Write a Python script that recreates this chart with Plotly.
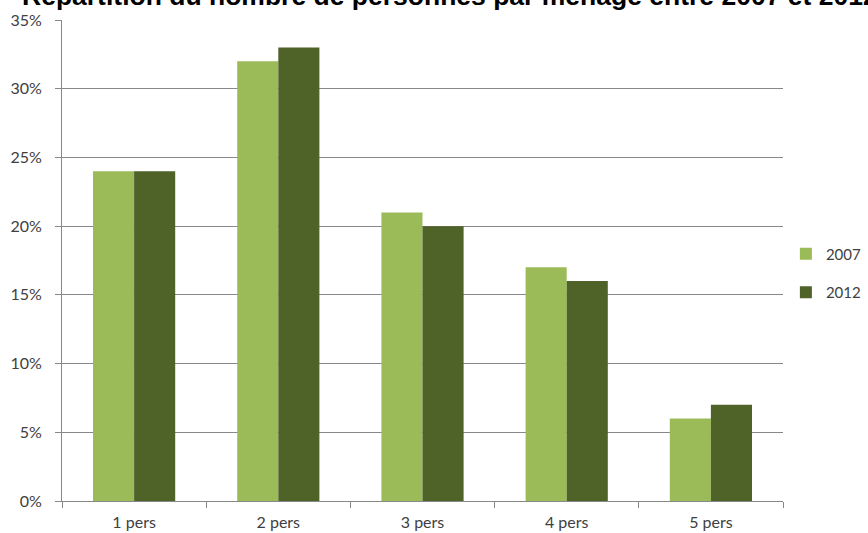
import plotly.graph_objects as go

# Household size distribution, 2007 vs 2012
categories = ["1 pers", "2 pers", "3 pers", "4 pers", "5 pers"]
share_2007 = [0.24, 0.32, 0.21, 0.17, 0.06]
share_2012 = [0.24, 0.33, 0.20, 0.16, 0.07]
y_ticks = [0, 0.05, 0.10, 0.15, 0.20, 0.25, 0.30, 0.35]
y_tick_labels = ["0%", "5%", "10%", "15%", "20%", "25%", "30%", "35%"]

GRID = "#888888"
TEXT = "#404040"
FONT = "Lato"

fig = go.Figure()
fig.add_trace(go.Bar(
    x=categories, y=share_2007, name="2007",
    marker=dict(color="#9BBB59", line=dict(width=0)),
    legendgroup="a",
))
fig.add_trace(go.Bar(
    x=categories, y=share_2012, name="2012",
    marker=dict(color="#4F6228", line=dict(width=0)),
    legendgroup="b",
))

fig.update_layout(
    width=868, height=533,
    margin=dict(l=62, r=85, t=20, b=32, autoexpand=False),
    paper_bgcolor="white", plot_bgcolor="white",
    barmode="group", bargap=0.43, bargroupgap=0,
    title=dict(
        text="<b>Répartition du nombre de personnes par ménage entre 2007 et 2012</b>",
        font=dict(family="Liberation Sans, Arial", size=26.5, color="black"),
        xref="container", x=22 / 868, xanchor="left",
        yref="container", y=1 - 5 / 533, yanchor="bottom",
    ),
    showlegend=True,
    legend=dict(
        x=1.004, xanchor="left", y=0.474, yanchor="middle",
        font=dict(family=FONT, size=15, color=TEXT),
        tracegroupgap=16, bgcolor="rgba(0,0,0,0)",
    ),
)

fig.update_xaxes(
    type="category",
    showline=True, linecolor=GRID, linewidth=1,
    ticks="outside", tickson="boundaries", ticklen=6, tickcolor=GRID,
    tickfont=dict(family=FONT, size=16, color=TEXT),
    ticklabelstandoff=7,
    showgrid=False,
)
fig.update_yaxes(
    range=[0, 0.35], tickvals=y_ticks, ticktext=y_tick_labels,
    showline=True, linecolor=GRID, linewidth=1,
    ticks="outside", ticklen=6, tickcolor=GRID,
    showgrid=True, gridcolor=GRID, gridwidth=1,
    zeroline=False,
    tickfont=dict(family=FONT, size=16, color=TEXT),
    ticklabelstandoff=10,
)

fig.write_html("out.html")
